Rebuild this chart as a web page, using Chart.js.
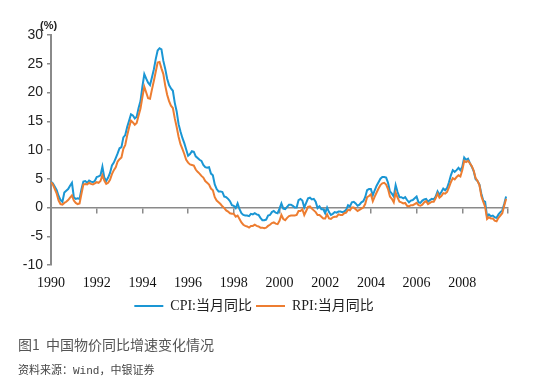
<!DOCTYPE html>
<html><head><meta charset="utf-8">
<script src="https://cdn.jsdelivr.net/npm/chart.js@4.4.1/dist/chart.umd.min.js"></script>
<style>
html,body{margin:0;padding:0;background:#fff;}
#wrap{position:absolute;left:0;top:0;width:538px;height:391px;}
.txt{position:absolute;white-space:nowrap;}
</style></head>
<body>
<div id="wrap"><canvas id="c" width="538" height="391"></canvas></div>
<div class="txt" style="left:40px;top:19px;font:bold 11px 'Liberation Sans',Arial,sans-serif;color:#222;">(%)</div>
<div class="txt" style="left:18px;top:334px;font:14px 'Noto Sans CJK SC',sans-serif;color:#555;">图1&nbsp;&nbsp;中国物价同比增速变化情况</div>
<div class="txt" style="left:18px;top:361px;font:11px 'Noto Sans CJK SC',sans-serif;color:#444;">资料来源：<span style="font-family:'Liberation Mono',monospace">Wind</span>，中银证券</div>
<script>
// Monthly data, Jan 1990 .. Dec 2009 (one row per year)
const cpi = [
  4.5, 4.2, 3.6, 3.0, 2.0, 1.3, 1.0, 2.6, 2.9, 3.2, 3.8, 4.3,
  1.8, 1.5, 1.6, 1.5, 3.2, 4.5, 4.6, 4.3, 4.7, 4.5, 4.4, 4.6,
  5.3, 5.4, 5.6, 7.1, 5.2, 4.6, 5.2, 6.0, 7.3, 7.8, 8.6, 9.4,
  10.3, 10.5, 12.2, 12.6, 14.0, 15.1, 16.2, 16.0, 15.5, 15.8, 17.3, 18.5,
  21.0, 23.2, 22.4, 21.7, 21.3, 22.6, 24.0, 25.8, 27.3, 27.7, 27.5, 25.5,
  24.1, 22.4, 21.3, 20.7, 20.3, 18.2, 16.7, 14.5, 13.2, 12.1, 11.2, 10.1,
  9.0, 9.3, 9.8, 9.7, 8.9, 8.6, 8.3, 8.1, 7.4, 7.0, 6.9, 7.0,
  5.9, 5.6, 4.0, 3.2, 2.8, 2.8, 2.7, 1.9, 1.8, 1.5, 1.1, 0.4,
  0.3, -0.1, 0.7, -0.3, -1.0, -1.3, -1.4, -1.4, -1.5, -1.1, -1.2, -1.0,
  -1.2, -1.3, -1.8, -2.2, -2.2, -2.1, -1.4, -1.3, -0.8, -0.6, -0.9, -1.0,
  -0.2, 0.7, -0.2, -0.3, 0.1, 0.5, 0.5, 0.3, 0.0, 0.0, 1.3, 1.5,
  1.2, 0.0, 0.8, 1.6, 1.7, 1.4, 1.5, 1.0, -0.1, 0.2, -0.3, -0.3,
  -1.0, 0.0, -0.8, -1.3, -1.1, -0.8, -0.9, -0.7, -0.7, -0.8, -0.7, -0.4,
  0.4, 0.2, 0.9, 1.0, 0.7, 0.3, 0.5, 0.9, 1.1, 1.8, 3.0, 3.2,
  3.2, 2.1, 3.0, 3.8, 4.4, 5.0, 5.3, 5.3, 5.2, 4.3, 2.8, 2.4,
  1.9, 3.9, 2.7, 1.8, 1.8, 1.6, 1.8, 1.3, 0.9, 1.2, 1.3, 1.6,
  1.9, 0.9, 0.8, 1.2, 1.4, 1.5, 1.0, 1.3, 1.5, 1.4, 1.9, 2.8,
  2.2, 2.7, 3.3, 3.0, 3.4, 4.4, 5.6, 6.5, 6.2, 6.5, 6.9, 6.5,
  7.1, 8.7, 8.3, 8.5, 7.7, 7.1, 6.3, 4.9, 4.6, 4.0, 2.4, 1.2,
  1.0, -1.6, -1.2, -1.5, -1.4, -1.7, -1.8, -1.2, -0.8, -0.5, 0.6, 1.9
];
const rpi = [
  4.4, 4.0, 3.2, 2.4, 1.2, 0.6, 0.5, 0.8, 1.0, 1.3, 1.7, 2.1,
  1.2, 0.8, 0.6, 0.7, 2.4, 4.0, 4.1, 4.0, 4.3, 4.1, 4.0, 4.2,
  4.4, 4.3, 4.6, 5.6, 4.7, 4.1, 4.3, 4.8, 5.8, 6.5, 7.0, 8.0,
  8.4, 8.7, 10.2, 10.9, 12.5, 13.9, 15.1, 14.8, 14.4, 14.7, 16.0, 17.2,
  19.2, 21.0, 20.0, 19.0, 18.9, 20.5, 22.0, 23.6, 25.2, 25.3, 24.2, 23.2,
  21.2, 19.6, 18.5, 17.7, 17.3, 15.5, 14.0, 12.3, 11.0, 10.2, 9.3, 8.3,
  7.8, 7.5, 7.4, 7.3, 6.6, 6.2, 5.9, 5.5, 5.2, 4.6, 4.3, 4.0,
  3.3, 3.0, 1.8, 1.2, 0.9, 0.6, 0.2, -0.1, -0.5, -0.7, -1.0, -1.1,
  -1.1, -1.6, -1.4, -2.0, -2.6, -3.0, -3.2, -3.3, -3.5, -3.2, -3.2, -3.0,
  -3.2, -3.3, -3.5, -3.5, -3.6, -3.5, -3.2, -3.0, -2.7, -2.6, -2.8, -2.9,
  -2.3, -1.3, -2.0, -2.2, -1.8, -1.5, -1.4, -1.4, -1.4, -1.3, -0.6, -0.6,
  -0.3, -1.3, -0.6, 0.1, 0.2, -0.2, -0.5, -0.8, -1.3, -1.3, -1.6, -1.9,
  -1.9, -1.2, -1.9, -2.0, -1.7, -1.6, -1.6, -1.2, -1.3, -1.3, -1.0, -0.9,
  -0.4, -0.5, 0.0, 0.0, -0.3, -0.6, -0.4, -0.2, 0.0, 0.6, 1.8, 2.0,
  2.3, 1.1, 1.9, 2.6, 3.3, 3.9, 4.2, 4.3, 4.0, 3.2, 1.9, 1.5,
  0.9, 2.6, 1.7, 1.0, 0.9, 0.7, 0.8, 0.3, 0.2, 0.4, 0.4, 0.6,
  0.8, 0.4, 0.3, 0.5, 0.9, 1.1, 0.6, 0.8, 1.0, 1.0, 1.6, 2.4,
  1.7, 2.0, 2.5, 2.4, 2.7, 3.5, 4.4, 5.1, 4.9, 5.3, 5.6, 5.4,
  6.5, 8.1, 7.9, 8.1, 7.7, 7.2, 6.4, 5.1, 4.6, 3.9, 2.0, 1.0,
  0.1, -2.0, -1.7, -1.9, -1.9, -2.3, -2.4, -1.8, -1.4, -1.0, 0.3, 1.5
];
const seriesNames = ['CPI:当月同比', 'RPI:当月同比'];
const xTickLabels = ['1990','1992','1994','1996','1998','2000','2002','2004','2006','2008',''];
const yMin = -10, yMax = 30, yStep = 5;
const monthsTotal = 240, monthStep = 24;

const toPoints = arr => arr.map((v, i) => ({x: i, y: v}));
const axisGray = '#8a8a8a';

new Chart(document.getElementById('c'), {
  type: 'line',
  data: {
    datasets: [
      {label: seriesNames[0], data: toPoints(cpi), borderColor: '#1a96d4', backgroundColor: '#1a96d4',
       borderWidth: 2, pointRadius: 0, tension: 0, order: 1, xAxisID: 'x', yAxisID: 'y'},
      {label: seriesNames[1], data: toPoints(rpi), borderColor: '#ed7d31', backgroundColor: '#ed7d31',
       borderWidth: 2, pointRadius: 0, tension: 0, order: 0, xAxisID: 'x', yAxisID: 'y'}
    ]
  },
  options: {
    responsive: false,
    animation: false,
    layout: {padding: {left: 0, top: 35, right: 30, bottom: 68}},
    plugins: {
      tooltip: {enabled: false},
      legend: {
        position: 'bottom',
        labels: {
          usePointStyle: true, pointStyle: 'line', pointStyleWidth: 29,
          font: {family: "'Liberation Serif','Noto Sans CJK SC',serif", size: 14},
          color: '#222', padding: 4, boxHeight: 14,
          sort: (a, b) => a.datasetIndex - b.datasetIndex
        }
      }
    },
    scales: {
      x: {
        type: 'linear', min: 0, max: monthsTotal, position: {y: 0},
        ticks: {display: false, stepSize: monthStep},
        grid: {drawOnChartArea: false, drawTicks: true, tickLength: 5, color: axisGray, lineWidth: 1.5},
        border: {display: true, color: axisGray, width: 1.5}
      },
      x2: {
        type: 'linear', axis: 'x', min: 0, max: monthsTotal, position: 'bottom',
        ticks: {stepSize: monthStep, autoSkip: false, maxRotation: 0, padding: 10,
          color: '#111', font: {family: "'Liberation Serif',serif", size: 14},
          callback: (v, i) => xTickLabels[i]},
        grid: {display: false, drawTicks: false},
        border: {display: false},
        afterFit: s => { s.height = 30; }
      },
      y: {
        type: 'linear', min: yMin, max: yMax, position: 'left',
        ticks: {stepSize: yStep, padding: 4, color: '#222',
          font: {family: "'Liberation Sans',Arial,sans-serif", size: 14}},
        grid: {drawOnChartArea: false, drawTicks: true, tickLength: 4, color: axisGray, lineWidth: 1.5},
        border: {display: true, color: axisGray, width: 2},
        afterFit: s => { s.width = 51; }
      }
    }
  }
});
</script>
</body></html>
